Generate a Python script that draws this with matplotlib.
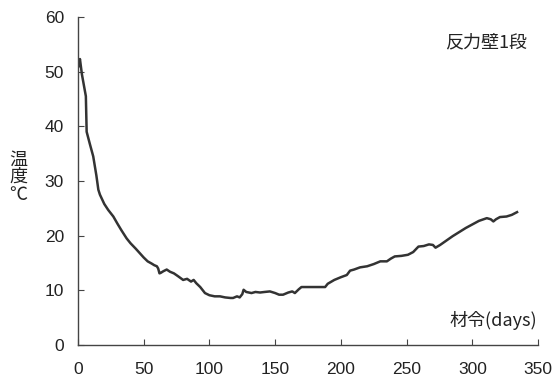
import matplotlib
matplotlib.use("Agg")
import matplotlib.pyplot as plt

days = [0.5, 1.5, 3, 6, 6.6, 9, 11.6, 14, 15.5, 16.7, 20, 23, 26.9, 30, 33, 37, 40, 44, 47, 50, 53,
        56, 58, 60, 61, 62, 63, 65, 67.5, 70, 73, 76, 80, 83, 86, 88, 90, 93, 96.6, 100, 104,
        108, 112, 116, 118, 121, 123, 125, 126, 128, 132, 135, 138.5, 142, 146, 150, 153, 156, 160,
        163, 165, 168, 170, 175, 180, 188, 190, 195, 200, 204.5, 207, 210, 214.6, 220, 225, 230,
        235, 238, 241, 246, 251, 255, 259, 263, 267, 270, 272, 275.5, 285, 295, 305, 311, 314,
        316, 318, 321, 326, 330, 334]
temps = [51.0, 52.3, 49.5, 45.5, 39, 36.8, 34.5, 31, 28.4, 27.5, 25.8, 24.7, 23.5, 22.2, 21.0, 19.5, 18.6,
         17.6, 16.8, 16.0, 15.3, 14.9, 14.6, 14.4, 14.0, 13.1, 13.2, 13.5, 13.8, 13.4, 13.1, 12.6, 11.9,
         12.1, 11.6, 11.9, 11.3, 10.6, 9.5, 9.1, 8.9, 8.9, 8.7, 8.6, 8.6, 8.9, 8.7, 9.3, 10.1,
         9.7, 9.5, 9.7, 9.6, 9.7, 9.8, 9.5, 9.2, 9.2, 9.6, 9.8, 9.5, 10.2, 10.6, 10.6, 10.6, 10.6,
         11.2, 11.9, 12.4, 12.8, 13.6, 13.8, 14.2, 14.4, 14.8, 15.3, 15.3, 15.8, 16.2, 16.3, 16.5,
         17.0, 18.0, 18.1, 18.4, 18.3, 17.8, 18.3, 19.9, 21.4, 22.7, 23.2, 23.0, 22.6, 23.0, 23.4,
         23.5, 23.8, 24.3]

x_ticks = [0, 50, 100, 150, 200, 250, 300, 350]
y_ticks = [0, 10, 20, 30, 40, 50, 60]

fig = plt.figure(figsize=(5.53, 3.81), dpi=100)
ax = fig.add_axes([0.141, 0.0945, 0.832, 0.861])
ax.plot(days, temps, color="#333333", lw=1.8, solid_joinstyle="round")
ax.set_xlim(0, 350)
ax.set_ylim(0, 60)
ax.set_xticks(x_ticks)
ax.set_yticks(y_ticks)
for s in ["top", "right"]:
    ax.spines[s].set_visible(False)
for s in ["left", "bottom"]:
    ax.spines[s].set_color("#444444")
    ax.spines[s].set_linewidth(1.0)
ax.tick_params(direction="in", length=4, color="#444444", labelsize=12.5, labelcolor="#222222")
ax.tick_params(axis="x", pad=12)
ax.tick_params(axis="y", pad=10)
for lab in ax.get_xticklabels() + ax.get_yticklabels():
    lab.set_family(["Liberation Sans", "DejaVu Sans"])

jp = ["Noto Sans CJK JP", "DejaVu Sans"]
fig.text(0.033, 0.535, "温\n度\n℃", family=jp, fontsize=13, ha="center", va="center",
         linespacing=0.98, color="#222222")
ax.text(0.998, 0.076, "材令(days)", transform=ax.transAxes, family=jp, fontsize=13,
        ha="right", va="center", color="#222222")
ax.text(0.976, 0.924, "反力壁1段", transform=ax.transAxes, family=jp, fontsize=13,
        ha="right", va="center", color="#222222")

fig.savefig("out.png", dpi=100)
